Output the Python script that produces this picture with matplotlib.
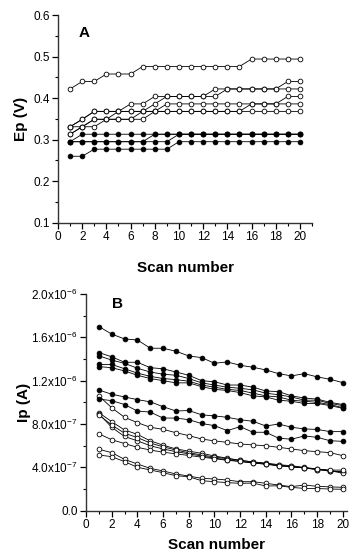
import numpy as np
import matplotlib
matplotlib.use("Agg")
import matplotlib.pyplot as plt
from matplotlib.ticker import MultipleLocator

plt.rcParams['font.family'] = ['Liberation Sans', 'DejaVu Sans']
plt.rcParams['mathtext.default'] = 'regular'

scans = np.arange(1, 21)

# Panel A: peak potential (V)
ep_open = [
    [0.422, 0.44, 0.44, 0.458, 0.458, 0.458, 0.476, 0.476, 0.476, 0.476, 0.476, 0.476, 0.476, 0.476, 0.476, 0.494, 0.494, 0.494, 0.494, 0.494],
    [0.331, 0.349, 0.368, 0.368, 0.368, 0.386, 0.386, 0.404, 0.404, 0.404, 0.404, 0.404, 0.422, 0.422, 0.422, 0.422, 0.422, 0.422, 0.44, 0.44],
    [0.313, 0.331, 0.349, 0.349, 0.368, 0.368, 0.368, 0.386, 0.404, 0.404, 0.404, 0.404, 0.404, 0.422, 0.422, 0.422, 0.422, 0.422, 0.422, 0.422],
    [0.331, 0.331, 0.349, 0.349, 0.349, 0.349, 0.349, 0.368, 0.386, 0.386, 0.386, 0.386, 0.386, 0.386, 0.386, 0.386, 0.386, 0.386, 0.404, 0.404],
    [0.313, 0.331, 0.331, 0.349, 0.349, 0.349, 0.368, 0.368, 0.368, 0.368, 0.368, 0.368, 0.368, 0.368, 0.368, 0.386, 0.386, 0.386, 0.386, 0.386],
    [0.331, 0.349, 0.368, 0.368, 0.368, 0.368, 0.368, 0.368, 0.368, 0.368, 0.368, 0.368, 0.368, 0.368, 0.368, 0.368, 0.368, 0.368, 0.368, 0.368],
]
ep_closed = [
    [0.295, 0.313, 0.313, 0.313, 0.313, 0.313, 0.313, 0.313, 0.313, 0.313, 0.313, 0.313, 0.313, 0.313, 0.313, 0.313, 0.313, 0.313, 0.313, 0.313],
    [0.295, 0.295, 0.295, 0.295, 0.295, 0.295, 0.295, 0.313, 0.313, 0.313, 0.313, 0.313, 0.313, 0.313, 0.313, 0.313, 0.313, 0.313, 0.313, 0.313],
    [0.295, 0.295, 0.295, 0.295, 0.295, 0.295, 0.295, 0.295, 0.295, 0.313, 0.313, 0.313, 0.313, 0.313, 0.313, 0.313, 0.313, 0.313, 0.313, 0.313],
    [0.26, 0.26, 0.277, 0.277, 0.277, 0.277, 0.277, 0.277, 0.277, 0.295, 0.295, 0.295, 0.295, 0.295, 0.295, 0.295, 0.295, 0.295, 0.295, 0.295],
]

# Panel B: peak current (units of 1e-7 A)
ip_closed = [
    [17.0, 16.3, 15.85, 15.76, 15.0, 14.99, 14.72, 14.28, 14.13, 13.61, 13.73, 13.42, 13.24, 12.99, 12.65, 12.44, 12.65, 12.35, 12.13, 11.82],
    [14.6, 14.2, 13.7, 13.7, 13.2, 13.1, 12.8, 12.5, 12.0, 11.9, 11.6, 11.6, 11.4, 11.05, 10.99, 10.6, 10.4, 10.3, 10.0, 9.8],
    [14.3, 13.9, 13.6, 13.15, 12.8, 12.6, 12.5, 12.2, 11.8, 11.6, 11.4, 11.3, 11.15, 10.85, 10.7, 10.5, 10.2, 10.2, 9.9, 9.7],
    [13.5, 13.5, 13.1, 12.7, 12.4, 12.2, 12.1, 11.95, 11.6, 11.4, 11.2, 11.1, 10.85, 10.6, 10.5, 10.2, 10.1, 10.0, 9.8, 9.5],
    [13.3, 13.2, 12.9, 12.5, 12.2, 12.0, 11.8, 11.8, 11.45, 11.2, 11.1, 10.9, 10.6, 10.5, 10.2, 10.1, 9.9, 9.9, 9.7, 9.45],
    [11.14, 10.75, 10.5, 10.25, 10.05, 9.6, 9.2, 9.25, 8.85, 8.75, 8.62, 8.4, 8.25, 7.82, 8.0, 7.7, 7.55, 7.5, 7.3, 7.3],
    [10.3, 10.16, 9.8, 9.2, 9.1, 8.55, 8.55, 8.4, 8.05, 7.85, 7.39, 7.76, 7.24, 7.24, 6.69, 6.6, 6.9, 6.77, 6.46, 6.4],
]
ip_open = [
    [10.6, 9.5, 8.62, 8.13, 7.70, 7.51, 7.20, 6.93, 6.62, 6.44, 6.31, 6.16, 6.07, 6.00, 5.85, 5.70, 5.54, 5.45, 5.36, 5.08],
    [9.05, 8.22, 7.45, 7.05, 6.45, 6.05, 5.7, 5.5, 5.3, 5.05, 4.85, 4.65, 4.5, 4.4, 4.25, 4.15, 4.0, 3.85, 3.7, 3.55],
    [8.95, 7.7, 6.85, 6.45, 6.0, 5.7, 5.45, 5.25, 5.05, 4.85, 4.7, 4.55, 4.4, 4.3, 4.15, 4.05, 3.95, 3.8, 3.65, 3.6],
    [8.84, 7.91, 7.15, 6.75, 6.25, 5.9, 5.6, 5.35, 5.15, 4.95, 4.8, 4.65, 4.5, 4.35, 4.2, 4.1, 3.95, 3.8, 3.7, 3.45],
    [7.1, 6.55, 6.2, 5.85, 5.6, 5.4, 5.25, 5.1, 4.95, 4.8, 4.65, 4.55, 4.4, 4.3, 4.15, 4.05, 3.95, 3.85, 3.75, 3.75],
    [5.67, 5.36, 4.74, 4.31, 3.91, 3.67, 3.39, 3.20, 2.99, 2.93, 2.83, 2.68, 2.68, 2.53, 2.37, 2.22, 2.37, 2.25, 2.2, 2.16],
    [5.14, 4.99, 4.53, 4.01, 3.76, 3.51, 3.23, 3.14, 2.77, 2.68, 2.59, 2.53, 2.55, 2.28, 2.3, 2.15, 2.06, 2.05, 2.0, 1.98],
]

ip_ticks = [0.0, 4e-7, 8e-7, 1.2e-6, 1.6e-6, 2.0e-6]
ip_ticklabels = ['0.0', r'$4.0x10^{-7}$', r'$8.0x10^{-7}$', r'$1.2x10^{-6}$', r'$1.6x10^{-6}$', r'$2.0x10^{-6}$']

line_kw = dict(color='black', lw=0.6, marker='o', ms=3.4, mew=0.6, mec='black')

fig = plt.figure(figsize=(3.59, 5.6), dpi=100)


def style_axis(ax):
    for s in ['top', 'right']:
        ax.spines[s].set_visible(False)
    for s in ['left', 'bottom']:
        ax.spines[s].set_linewidth(1.0)
        ax.spines[s].set_color('#333333')
    ax.tick_params(which='major', direction='out', length=4, width=0.9, labelsize=8.5, pad=2)
    ax.tick_params(which='minor', direction='out', length=2, width=0.8)
    ax.xaxis.set_major_locator(MultipleLocator(2))
    ax.xaxis.set_minor_locator(MultipleLocator(1))
    ax.set_xlabel('Scan number', fontsize=11, fontweight='bold')


# Panel A
axA = fig.add_axes([0.1616, 0.6023, 0.7075, 0.3709])
for s in ep_open:
    axA.plot(scans, s, mfc='white', **line_kw)
for s in ep_closed:
    axA.plot(scans, s, mfc='black', **line_kw)
axA.set_xlim(0, 21)
axA.set_ylim(0.1, 0.6)
style_axis(axA)
axA.yaxis.set_major_locator(MultipleLocator(0.1))
axA.yaxis.set_minor_locator(MultipleLocator(0.05))
axA.set_ylabel('Ep (V)', fontsize=11, fontweight='bold', labelpad=4)
axA.xaxis.labelpad = 13
axA.text(1.7, 0.557, 'A', fontsize=11, fontweight='bold', va='center')

# Panel B
axB = fig.add_axes([0.2396, 0.088, 0.7262, 0.387])
for s in ip_open:
    axB.plot(scans, np.array(s) * 1e-7, mfc='white', **line_kw)
for s in ip_closed:
    axB.plot(scans, np.array(s) * 1e-7, mfc='black', **line_kw)
axB.set_xlim(0, 20.3)
axB.set_ylim(0, 2.0e-6)
style_axis(axB)
axB.set_yticks(ip_ticks)
axB.set_yticklabels(ip_ticklabels)
axB.yaxis.set_minor_locator(MultipleLocator(2e-7))
axB.set_ylabel('Ip (A)', fontsize=11, fontweight='bold', labelpad=0)
axB.xaxis.labelpad = 5
axB.text(2.0, 1.905e-6, 'B', fontsize=11, fontweight='bold', va='center')

fig.savefig('out.png', dpi=100)
